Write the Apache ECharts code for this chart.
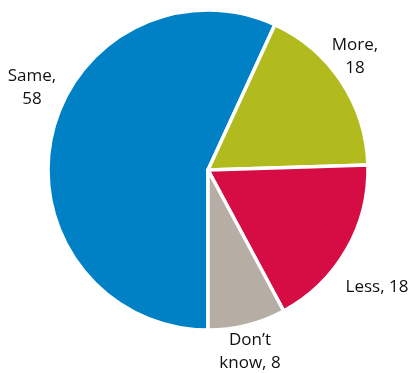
<!DOCTYPE html>
<html>
<head>
<meta charset="utf-8">
<script src="https://cdn.jsdelivr.net/npm/echarts@6/dist/echarts.min.js"></script>
<style>
  html, body { margin: 0; padding: 0; background: #fff; }
  #chart { width: 412px; height: 373px; }
</style>
</head>
<body>
<div id="chart"></div>
<script>
// Answer shares, drawn clockwise from the bottom of the pie
const categories = ['Same', 'More', 'Less', 'Don\u2019t know'];
const values = [58, 18, 18, 8];
// How each slice's label breaks across lines; {v} is replaced by the value
const labelTemplates = ['Same,\n{v}', 'More,\n{v}', 'Less, {v}', 'Don\u2019t\nknow, {v}'];
const colors = ['#0081C6', '#B2BB1E', '#D60D45', '#B6AEA5'];

// Label anchor points (centre of each text block)
const labelSpots = [[32, 88], [355, 57], [377, 287], [250, 352]];

const labelText = i => labelTemplates[i].replace('{v}', values[i]);

const chart = echarts.init(document.getElementById('chart'), null, { renderer: 'canvas' });

chart.setOption({
  animation: false,
  graphic: categories.map((name, i) => ({
    type: 'text',
    x: labelSpots[i][0],
    y: labelSpots[i][1],
    silent: true,
    style: {
      text: labelText(i),
      fill: '#111',
      font: '17px "Open Sans"',
      lineHeight: 23,
      align: 'center',
      verticalAlign: 'middle'
    }
  })),
  series: [{
    type: 'pie',
    center: [208, 170],
    radius: [0, 160],
    startAngle: -90,
    clockwise: true,
    itemStyle: { borderColor: '#fff', borderWidth: 3.5 },
    label: { show: false },
    labelLine: { show: false },
    emphasis: { disabled: true },
    data: categories.map((name, i) => ({
      name,
      value: values[i],
      itemStyle: { color: colors[i] }
    }))
  }]
});
</script>
</body>
</html>
